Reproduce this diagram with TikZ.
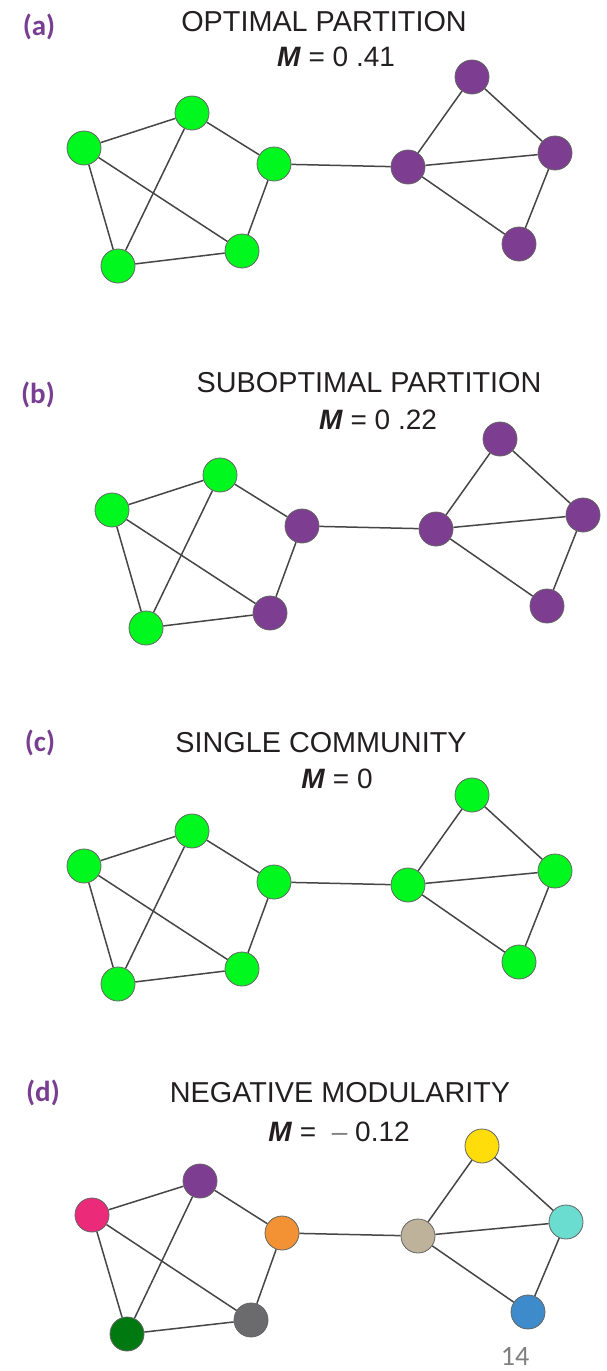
\documentclass[tikz,border=0pt]{standalone}
\usepackage{fontspec}
\setmainfont{Liberation Sans}
\newfontfamily\labfont{Carlito}
\definecolor{gr}{RGB}{0,248,30}
\definecolor{pu}{RGB}{125,62,146}
\definecolor{labcol}{RGB}{120,62,145}
\definecolor{titlecol}{RGB}{35,31,32}
\definecolor{edgecol}{RGB}{70,70,70}
\definecolor{nodeline}{RGB}{100,100,100}
\definecolor{dpink}{RGB}{236,42,122}
\definecolor{dorange}{RGB}{243,146,52}
\definecolor{dgray}{RGB}{107,107,109}
\definecolor{ddgreen}{RGB}{0,122,16}
\definecolor{dtan}{RGB}{191,178,154}
\definecolor{dyellow}{RGB}{255,221,10}
\definecolor{dteal}{RGB}{106,221,208}
\definecolor{dblue}{RGB}{62,139,203}
\definecolor{pagenum}{RGB}{128,128,128}
\tikzset{
  vert/.style={circle, draw=nodeline, line width=0.8pt, minimum size=34pt, inner sep=0pt},
  link/.style={draw=edgecol, line width=1.5pt},
  paneltitle/.style={font=\fontsize{28.8}{30}\selectfont, text=titlecol, inner sep=0pt},
  mline/.style={font=\fontsize{28}{30}\selectfont, text=titlecol, inner sep=0pt},
  panellabel/.style={font=\labfont\bfseries\fontsize{29}{30}\selectfont, text=labcol, inner sep=0pt}
}
\newcommand{\graphedges}[1]{%
  \foreach \u/\v in {A1/A2,A1/A4,A1/A5,A2/A3,A2/A5,A3/A4,A4/A5,A3/B1,B1/B2,B1/B3,B1/B4,B2/B3,B3/B4}
    {\draw[link] (#1\u) -- (#1\v);}}
\begin{document}
\begin{tikzpicture}[x=1pt,y=-1pt]
\useasboundingbox[fill=white] (0,0) rectangle (606,1371);

% ---------- (a)
\node[panellabel] (la) at (39,27) {(a)};
\node[paneltitle] (ta) at (324,22) {OPTIMAL PARTITION};
\node[mline] (ma) at (336,57) {\textbf{\textit{M}} = 0 .41};
\begin{scope}[shift={(0,0)}]
\node[vert, fill=gr] (aA1) at (84,148) {};
\node[vert, fill=gr] (aA2) at (192,113) {};
\node[vert, fill=gr] (aA3) at (274,164) {};
\node[vert, fill=gr] (aA4) at (242,251) {};
\node[vert, fill=gr] (aA5) at (118,266) {};
\node[vert, fill=pu] (aB1) at (408,167) {};
\node[vert, fill=pu] (aB2) at (472,77) {};
\node[vert, fill=pu] (aB3) at (555,153) {};
\node[vert, fill=pu] (aB4) at (519,244) {};
\end{scope}
\graphedges{a}

% ---------- (b)
\node[panellabel] (lb) at (38,395) {(b)};
\node[paneltitle] (tb) at (369,383) {SUBOPTIMAL PARTITION};
\node[mline] (mb) at (378,420) {\textbf{\textit{M}} = 0 .22};
\begin{scope}[shift={(28,362)}]
\node[vert, fill=gr] (bA1) at (84,148) {};
\node[vert, fill=gr] (bA2) at (192,113) {};
\node[vert, fill=pu] (bA3) at (274,164) {};
\node[vert, fill=pu] (bA4) at (242,251) {};
\node[vert, fill=gr] (bA5) at (118,266) {};
\node[vert, fill=pu] (bB1) at (408,167) {};
\node[vert, fill=pu] (bB2) at (472,77) {};
\node[vert, fill=pu] (bB3) at (555,153) {};
\node[vert, fill=pu] (bB4) at (519,244) {};
\end{scope}
\graphedges{b}

% ---------- (c)
\node[panellabel] (lc) at (40,743) {(c)};
\node[paneltitle] (tc) at (321,743) {SINGLE COMMUNITY};
\node[mline] (mc) at (337,779) {\textbf{\textit{M}} = 0};
\begin{scope}[shift={(0,718)}]
\node[vert, fill=gr] (cA1) at (84,148) {};
\node[vert, fill=gr] (cA2) at (192,113) {};
\node[vert, fill=gr] (cA3) at (274,164) {};
\node[vert, fill=gr] (cA4) at (242,251) {};
\node[vert, fill=gr] (cA5) at (118,266) {};
\node[vert, fill=gr] (cB1) at (408,167) {};
\node[vert, fill=gr] (cB2) at (472,77) {};
\node[vert, fill=gr] (cB3) at (555,153) {};
\node[vert, fill=gr] (cB4) at (519,244) {};
\end{scope}
\graphedges{c}

% ---------- (d)
\node[panellabel] (ld) at (43,1093) {(d)};
\node[paneltitle] (td) at (340,1093) {NEGATIVE MODULARITY};
\node[mline] (md) at (339,1132) {\textbf{\textit{M}} = \ \textcolor{pagenum}{–} 0.12};
\node[vert, fill=dpink] (dA1) at (92,1215) {};
\node[vert, fill=pu] (dA2) at (200,1181) {};
\node[vert, fill=dorange] (dA3) at (282,1233) {};
\node[vert, fill=dgray] (dA4) at (251,1320) {};
\node[vert, fill=ddgreen] (dA5) at (127,1334) {};
\node[vert, fill=dtan] (dB1) at (418,1236) {};
\node[vert, fill=dyellow] (dB2) at (482,1146) {};
\node[vert, fill=dteal] (dB3) at (566,1222) {};
\node[vert, fill=dblue] (dB4) at (528,1312) {};
\graphedges{d}

\node[font=\labfont\fontsize{28}{28}\selectfont, text=pagenum, inner sep=0pt] (pg) at (515,1356) {14};
\end{tikzpicture}
\end{document}
